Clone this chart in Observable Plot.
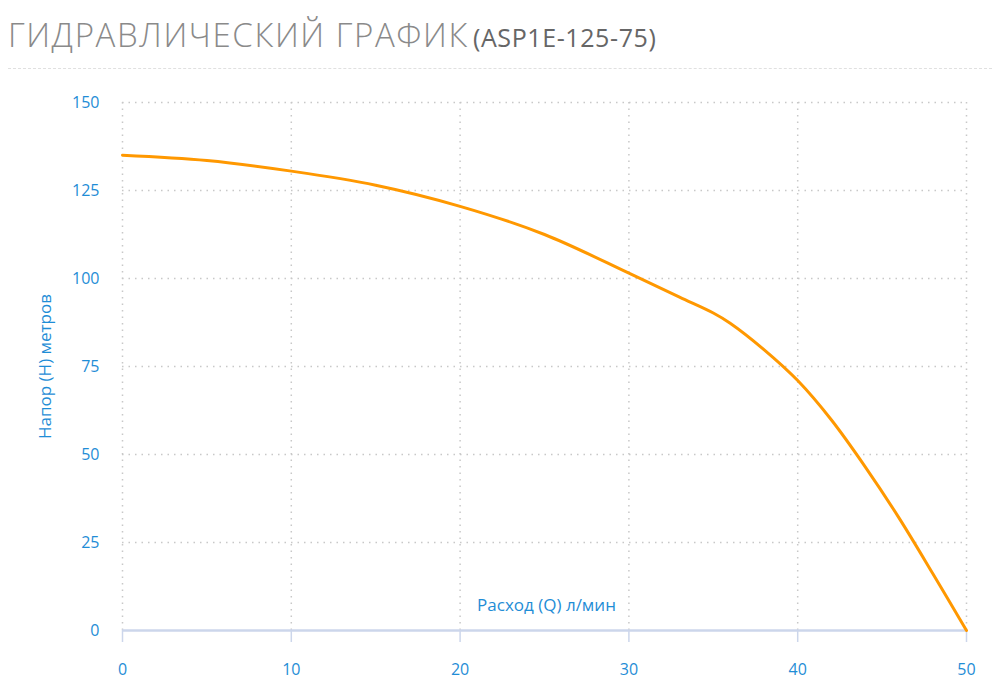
<!DOCTYPE html>
<html>
<head>
<meta charset="utf-8">
<script src="https://cdn.jsdelivr.net/npm/d3@7"></script>
<script src="https://cdn.jsdelivr.net/npm/@observablehq/plot@0.6"></script>
<style>
  html, body { margin: 0; padding: 0; background: #fff; width: 1000px; height: 694px; overflow: hidden; }
  #title { position: absolute; left: 8px; top: 12px; font-family: "Open Sans", sans-serif; white-space: nowrap; }
  #title .main { font-size: 33px; font-weight: 300; color: #8a8a8a; letter-spacing: 1.6px; }
  #title .model { font-size: 25px; color: #666; letter-spacing: 0.6px; margin-left: 4px; }
  #sep { position: absolute; left: 8px; top: 68px; width: 984px; border-top: 1px dashed #e0e0e0; }
  #chart { position: absolute; left: 0; top: 80px; }
</style>
</head>
<body>
<div id="title"><span class="main">ГИДРАВЛИЧЕСКИЙ ГРАФИК</span><span class="model">(ASP1E-125-75)</span></div>
<div id="sep"></div>
<div id="chart"></div>
<script>
const flow = [0, 5, 10, 15, 20, 25, 30, 33, 35, 36, 38, 40, 42, 44, 46, 48, 50];
const head = [135, 133.5, 130.5, 126.5, 120.5, 112.5, 101.5, 94.7, 90.2, 87.3, 79.8, 71, 59.8, 46.5, 32, 16.2, 0];
const xTicks = [0, 10, 20, 30, 40, 50];
const yTicks = [0, 25, 50, 75, 100, 125, 150];
const xLabel = "Расход (Q) л/мин";
const yLabel = "Напор (H) метров";

const data = flow.map((q, i) => ({q, h: head[i]}));
const blue = "#1f8dd6";

const plot = Plot.plot({
  width: 1000,
  height: 614,
  marginTop: 22,
  marginBottom: 64,
  marginLeft: 122,
  marginRight: 34,
  style: {fontFamily: "'Open Sans', sans-serif", fontSize: "16px", color: blue, background: "transparent"},
  x: {domain: [0, 50], ticks: xTicks, label: null},
  y: {domain: [0, 150], ticks: yTicks, label: null},
  marks: [
    Plot.gridX(xTicks, {stroke: "#c8c8c8", strokeOpacity: 1, strokeDasharray: "1.5,5", strokeWidth: 1.5}),
    Plot.gridY(yTicks.filter(d => d > 0), {stroke: "#c8c8c8", strokeOpacity: 1, strokeDasharray: "1.5,5", strokeWidth: 1.5}),
    Plot.axisX(xTicks, {tickSize: 12, tickPadding: 21, stroke: "#ccd6eb", strokeWidth: 1.5, fill: blue, fontSize: 16, label: null}),
    Plot.axisY(yTicks, {tickSize: 0, tickPadding: 23, fill: blue, fontSize: 16, label: null}),
    Plot.ruleY([0], {stroke: "#ccd6eb", strokeWidth: 2.5}),
    Plot.line(data, {x: "q", y: "h", stroke: "#ff9800", strokeWidth: 3, curve: "catmull-rom"}),
    Plot.text([xLabel], {frameAnchor: "bottom", dx: 2, dy: -20, fill: blue, fontSize: 17, letterSpacing: "1.2px"}),
    Plot.text([yLabel], {frameAnchor: "left", textAnchor: "middle", rotate: -90, dx: -77, fill: blue, fontSize: 17, letterSpacing: "1.5px"})
  ]
});
document.getElementById("chart").appendChild(plot);
</script>
</body>
</html>
